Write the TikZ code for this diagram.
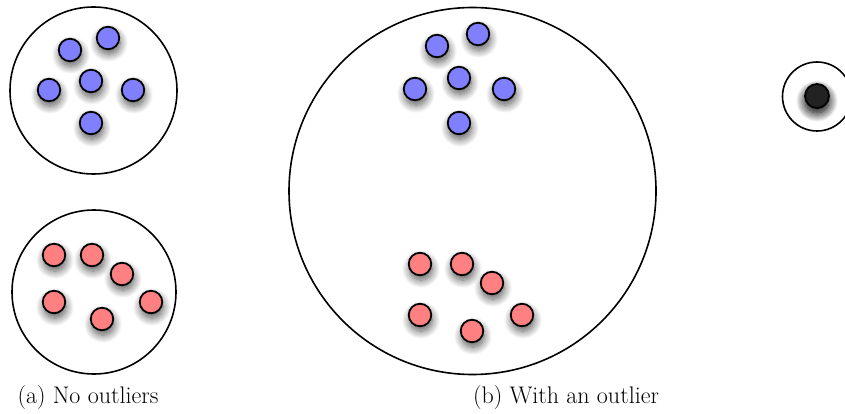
\documentclass[tikz,border=0pt]{standalone}
\usepackage{tikz}
\usetikzlibrary{shadows.blur, positioning}
\definecolor{dotblue}{RGB}{128,128,255}
\definecolor{dotred}{RGB}{255,128,128}
\definecolor{dotdark}{RGB}{34,34,34}

\begin{document}
\begin{tikzpicture}[
        x=1pt, y=-1pt,
        group/.style={
            draw,
            circle,
            line width=1.6pt,
            inner sep=0pt
        },
        dot/.style={
            draw,
            circle,
            line width=1.8pt,
            inner sep=0pt,
            minimum size=22.5pt,
            blur shadow={shadow xshift=1pt, shadow yshift=-5pt,
                shadow blur radius=8pt, shadow blur steps=12,
                shadow opacity=65}
        },
        bluedot/.style={dot, fill=dotblue},
        reddot/.style={dot, fill=dotred},
        every node/.style={font=\fontsize{24}{28}\selectfont}
    ]
        \useasboundingbox (0,0) rectangle (845,414);

        % (a) two small groups
        \node[group, minimum size=167pt] (grpblue) at (93.5,90.5) {};
        \node[group, minimum size=164pt] (grpred) at (94,292) {};

        \node[bluedot] (ab1) at (70,50) {};
        \node[bluedot] (ab2) at (108,38) {};
        \node[bluedot] (ab3) at (91,81) {};
        \node[bluedot] (ab4) at (49,90) {};
        \node[bluedot] (ab5) at (133,90) {};
        \node[bluedot] (ab6) at (91,123) {};

        \node[reddot] (ar1) at (54,255) {};
        \node[reddot] (ar2) at (92,255) {};
        \node[reddot] (ar3) at (122,274) {};
        \node[reddot] (ar4) at (54,302) {};
        \node[reddot] (ar5) at (151,302) {};
        \node[reddot] (ar6) at (102,319) {};

        % (b) one big group and the outlier
        \node[group, minimum size=367pt] (grpall) at (472.5,191) {};

        \node[bluedot] (bb1) at (437,46) {};
        \node[bluedot] (bb2) at (478,34) {};
        \node[bluedot] (bb3) at (459,78) {};
        \node[bluedot] (bb4) at (415,89) {};
        \node[bluedot] (bb5) at (504,89) {};
        \node[bluedot] (bb6) at (459,123) {};

        \node[reddot] (br1) at (420,264) {};
        \node[reddot] (br2) at (462,264) {};
        \node[reddot] (br3) at (492,283) {};
        \node[reddot] (br4) at (420,315) {};
        \node[reddot] (br5) at (522,315) {};
        \node[reddot] (br6) at (472,331) {};

        \node[group, minimum size=69pt] (grpout) at (817,96.5) {};
        \node[dot, fill=dotdark, minimum size=24pt,
            blur shadow={shadow xshift=0pt, shadow yshift=-5pt,
                shadow blur radius=9pt, shadow blur steps=14,
                shadow opacity=65}] (outlier) at (817,96) {};

        % captions
        \node (capa) at (88,398) {(a) No outliers};
        \node (capb) at (566,398) {(b) With an outlier};

    \end{tikzpicture}
\end{document}
